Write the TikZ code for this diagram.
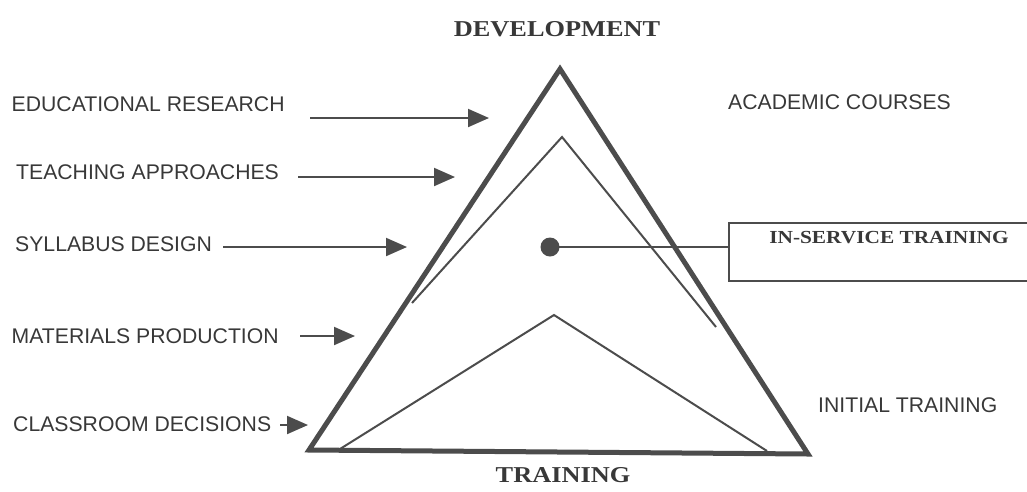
\documentclass[tikz,border=0pt]{standalone}
\usepackage{fontspec}
\usetikzlibrary{arrows.meta}
\newfontfamily\labelsans{Liberation Sans}
\newfontfamily\headserif{Liberation Serif}[FakeStretch=1.16]
\definecolor{ink}{gray}{0.22}
\definecolor{pen}{gray}{0.30}
\begin{document}
\begin{tikzpicture}[x=1pt,y=-1pt,
  sidelabel/.style={anchor=west,inner sep=0pt,text=ink,font=\labelsans\fontsize{21.2}{24}\selectfont},
  headlabel/.style={inner sep=0pt,text=ink,font=\headserif\bfseries\fontsize{22.7}{26}\selectfont},
  boxlabel/.style={inner sep=0pt,text=ink,font=\headserif\bfseries\fontsize{18.4}{22}\selectfont},
  outerline/.style={draw=pen,line width=5pt},
  innerline/.style={draw=pen,line width=2pt},
  feed/.style={draw=pen,line width=2pt,-{Triangle[length=21pt,width=18pt]}}]
\useasboundingbox (0,0) rectangle (1027,491);
\clip (0,0) rectangle (1027,491);

% corners of the pyramid and of the two inner outlines
\coordinate (apex) at (560,69);
\coordinate (baseL) at (309,450);
\coordinate (baseR) at (808,454);
\coordinate (midTop) at (562,137);
\coordinate (midL) at (412,303);
\coordinate (midR) at (716,327);
\coordinate (lowTop) at (554,315);
\coordinate (lowL) at (340,449);
\coordinate (lowR) at (767,451);

\draw[outerline] (baseL) -- (apex) -- (baseR) -- cycle;
\draw[innerline] (midL) -- (midTop) -- (midR);
\draw[innerline] (lowL) -- (lowTop) -- (lowR);

% headings
\node[headlabel] (dev) at (557,29) {DEVELOPMENT};
\node[headlabel] (train) at (563,475) {TRAINING};

% inputs on the left
\node[sidelabel] (edu) at (11.5,104) {EDUCATIONAL RESEARCH};
\node[sidelabel] (teach) at (16,172.5) {TEACHING APPROACHES};
\node[sidelabel] (syl) at (15,244) {SYLLABUS DESIGN};
\node[sidelabel] (mat) at (11.5,336) {MATERIALS PRODUCTION};
\node[sidelabel] (cls) at (13,424.5) {CLASSROOM DECISIONS};

\coordinate (s1) at (310,118);   \coordinate (t1) at (489,118);
\coordinate (s2) at (298,177);   \coordinate (t2) at (455,177);
\coordinate (s3) at (223,247);   \coordinate (t3) at (407,247);
\coordinate (s4) at (300,336);   \coordinate (t4) at (355,336);
\coordinate (s5) at (280,425);   \coordinate (t5) at (308,425);
\draw[feed] (s1) -- (t1);
\draw[feed] (s2) -- (t2);
\draw[feed] (s3) -- (t3);
\draw[feed] (s4) -- (t4);
\draw[feed] (s5) -- (t5);

% levels on the right
\node[sidelabel] (acad) at (728,102) {ACADEMIC COURSES};
\node[sidelabel] (init) at (818,405) {INITIAL TRAINING};

% in-service box linked to the centre of the pyramid
\node[draw=pen,line width=2.2pt,anchor=north west,inner sep=0pt,
      minimum width=330pt,minimum height=58pt] (inservice) at (728,222) {};
\node[boxlabel] (inservicetext) at (889,238) {IN-SERVICE TRAINING};
\node[circle,fill=pen,inner sep=0pt,minimum size=19pt] (hub) at (550,247) {};
\draw[innerline] (hub.center) -- (hub -| inservice.west);
\end{tikzpicture}
\end{document}
